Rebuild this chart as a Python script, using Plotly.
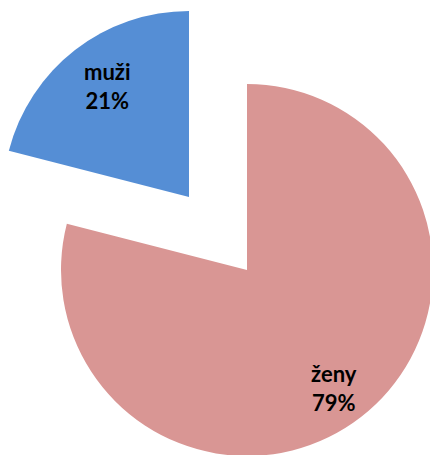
import plotly.graph_objects as go

# data
categories = ["ženy", "muži"]
values = [79, 21]
colors = ["#D99694", "#558ED5"]

W, H = 440, 465
total = sum(values)

def dom(cx, cy, r):
    return dict(x=[(cx - r) / W, (cx + r) / W],
                y=[1 - (cy + r) / H, 1 - (cy - r) / H])

def trace_for(idx, cx, cy, r):
    cols = [colors[i] if i == idx else "rgba(0,0,0,0)" for i in range(len(categories))]
    return go.Pie(
        labels=categories, values=values, sort=False, direction="clockwise", rotation=0,
        marker=dict(colors=cols, line=dict(width=0)),
        textinfo="none", domain=dom(cx, cy, r), showlegend=False, hoverinfo="skip",
    )

# label positions (pixels) for each slice's text block
label_pos = [(334, 388), (107, 86)]

fig = go.Figure()
fig.add_trace(trace_for(0, 247, 270, 186))
fig.add_trace(trace_for(1, 189, 197, 186))
for i, (lab, v) in enumerate(zip(categories, values)):
    px, py = label_pos[i]
    fig.add_annotation(
        x=px / W, y=1 - py / H, xref="paper", yref="paper",
        text=f"{lab}<br>{round(100 * v / total)}%", showarrow=False,
        xanchor="center", yanchor="middle", align="center",
        font=dict(family="Lato", size=22, color="#000000", weight="bold"),
    )
fig.update_layout(width=W, height=H, margin=dict(l=0, r=0, t=0, b=0),
                  paper_bgcolor="white", plot_bgcolor="white")
fig.write_html("out.html", config={"displayModeBar": False},
               post_script="document.body.style.margin='0';document.body.style.overflow='hidden';")
